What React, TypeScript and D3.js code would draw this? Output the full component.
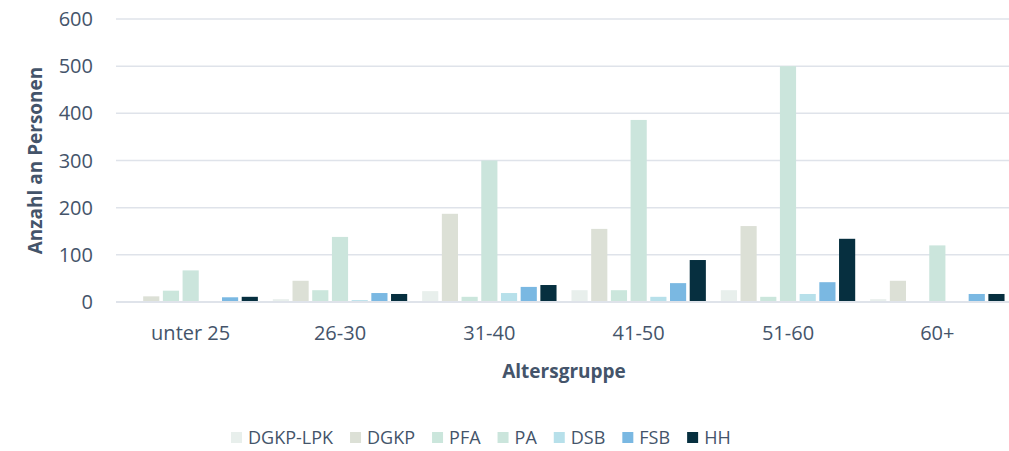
import React, { useEffect, useRef } from 'react';
import * as d3 from 'd3';

const groups = ['unter 25', '26-30', '31-40', '41-50', '51-60', '60+'];
const seriesNames = ['DGKP-LPK', 'DGKP', 'PFA', 'PA', 'DSB', 'FSB', 'HH'];
const seriesColors = ['#e8efec', '#dce0d6', '#cbe6dc', '#cbe5dc', '#b7e0ea', '#7ab8e2', '#062f3f'];

const dgkpLpk = [0, 6, 23, 25, 25, 6];
const dgkp = [12, 45, 187, 155, 161, 45];
const pfa = [24, 25, 11, 25, 11, 0];
const pa = [67, 138, 300, 386, 500, 120];
const dsb = [0, 4, 19, 11, 17, 0];
const fsb = [10, 19, 32, 40, 42, 17];
const hh = [11, 17, 36, 89, 134, 17];

const yTicks = [0, 100, 200, 300, 400, 500, 600];

const textColor = '#44546a';
const gridColor = '#dfe3ea';
const font = "'Open Sans', sans-serif";

const App = () => {
  const ref = useRef(null);

  useEffect(() => {
    const width = 1009,
      height = 451;
    const margin = { top: 19, right: -3, bottom: 149, left: 116 };

    const values = [dgkpLpk, dgkp, pfa, pa, dsb, fsb, hh];
    const rows = groups.map((g, i) => ({
      group: g,
      vals: seriesNames.map((s, j) => ({ key: s, value: values[j][i], color: seriesColors[j] })),
    }));

    const svg = d3.select(ref.current);
    svg.selectAll('*').remove();
    svg.attr('width', width).attr('height', height);

    const x0 = d3
      .scaleBand()
      .domain(groups)
      .range([margin.left, width - margin.right])
      .paddingInner(0.1)
      .paddingOuter(0.05);
    const x1 = d3.scaleBand().domain(seriesNames).range([0, x0.bandwidth()]).paddingInner(0.18);
    const y = d3
      .scaleLinear()
      .domain([0, 600])
      .range([height - margin.bottom, margin.top]);

    // gridlines
    svg
      .append('g')
      .selectAll('line')
      .data(yTicks)
      .enter()
      .append('line')
      .attr('x1', margin.left)
      .attr('x2', width)
      .attr('y1', (d) => y(d))
      .attr('y2', (d) => y(d))
      .attr('stroke', gridColor)
      .attr('stroke-width', (d) => (d === 0 ? 2 : 1.5));

    // y tick labels
    svg
      .append('g')
      .selectAll('text')
      .data(yTicks)
      .enter()
      .append('text')
      .attr('x', 93)
      .attr('y', (d) => y(d))
      .attr('dy', '0.35em')
      .attr('text-anchor', 'end')
      .style('font-family', font)
      .style('font-size', '20px')
      .style('fill', textColor)
      .text((d) => d);

    // bars
    const grp = svg
      .append('g')
      .selectAll('g')
      .data(rows)
      .enter()
      .append('g')
      .attr('transform', (d) => `translate(${x0(d.group)},0)`);

    grp
      .selectAll('rect')
      .data((d) => d.vals.filter((v) => v.value > 0))
      .enter()
      .append('rect')
      .attr('x', (d) => x1(d.key))
      .attr('width', x1.bandwidth())
      .attr('y', (d) => y(d.value))
      .attr('height', (d) => y(0) - y(d.value) - 1)
      .attr('fill', (d) => d.color);

    // x labels
    svg
      .append('g')
      .selectAll('text')
      .data(groups)
      .enter()
      .append('text')
      .attr('x', (d) => x0(d) + x0.bandwidth() / 2)
      .attr('y', 340)
      .attr('text-anchor', 'middle')
      .style('font-family', font)
      .style('font-size', '20px')
      .style('fill', textColor)
      .text((d) => d);

    // axis titles
    svg
      .append('text')
      .attr('x', (margin.left + width - margin.right) / 2)
      .attr('y', 378)
      .attr('text-anchor', 'middle')
      .style('font-family', font)
      .style('font-size', '19px')
      .style('font-weight', 'bold')
      .style('fill', textColor)
      .text('Altersgruppe');

    svg
      .append('text')
      .attr('transform', `translate(42,${(y(0) + y(600)) / 2}) rotate(-90)`)
      .attr('text-anchor', 'middle')
      .style('font-family', font)
      .style('font-size', '19px')
      .style('font-weight', 'bold')
      .style('fill', textColor)
      .text('Anzahl an Personen');

    // legend
    const legend = svg.append('g').attr('transform', 'translate(231,438)');
    let lx = 0;
    seriesNames.forEach((s, i) => {
      const item = legend.append('g').attr('transform', `translate(${lx},0)`);
      item
        .append('rect')
        .attr('x', 0)
        .attr('y', -6)
        .attr('width', 11)
        .attr('height', 11)
        .attr('fill', seriesColors[i]);
      const t = item
        .append('text')
        .attr('x', 17)
        .attr('y', 0)
        .attr('dy', '0.35em')
        .style('font-family', font)
        .style('font-size', '18px')
        .style('fill', textColor)
        .text(s);
      lx += 17 + t.node().getComputedTextLength() + 17;
    });
  }, []);

  return (
    <div style={{ position: 'absolute', left: 0, top: 0, width: 1009, height: 451, background: '#fff' }}>
      <svg ref={ref} style={{ display: 'block' }} />
    </div>
  );
};

export default App;
